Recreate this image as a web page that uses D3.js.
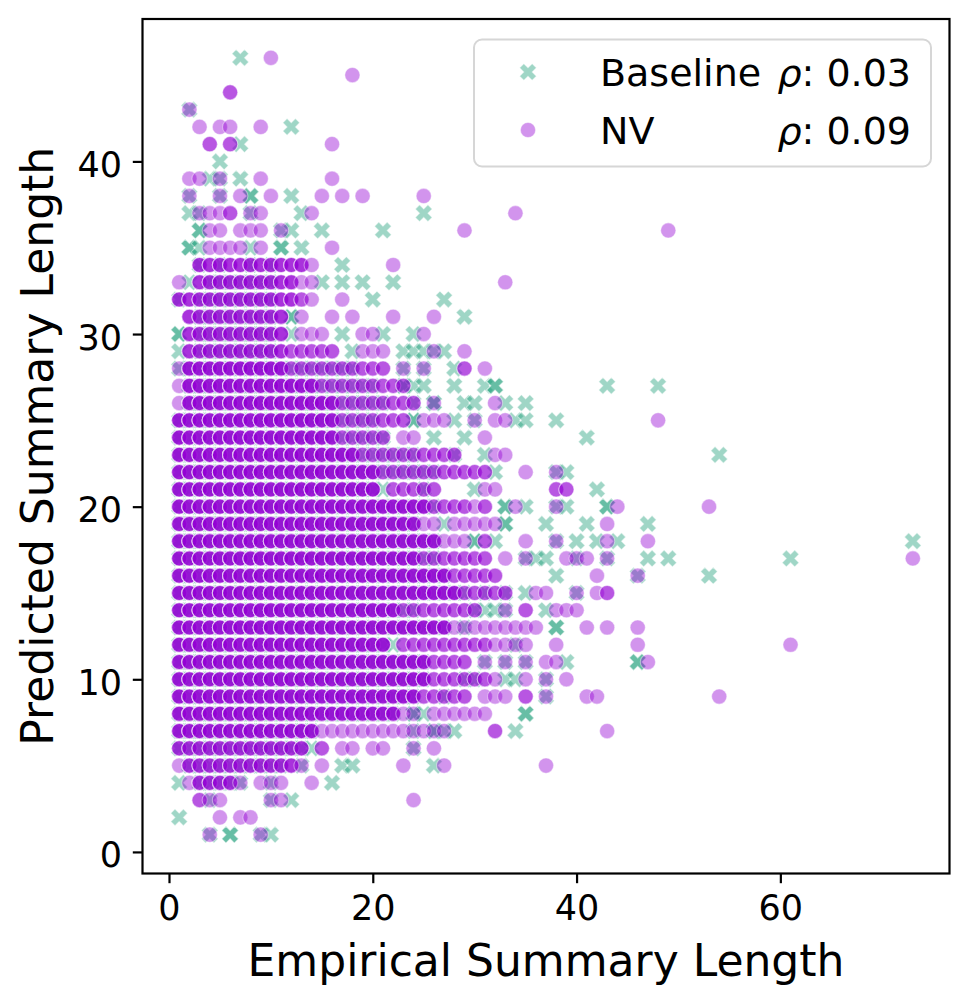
<!DOCTYPE html>
<html><head><meta charset="utf-8">
<script src="https://cdn.jsdelivr.net/npm/d3@7/dist/d3.min.js"></script>
<style>body{margin:0;background:#fff}text{font-family:"DejaVu Sans",sans-serif}</style>
</head><body>
<svg id="c" width="971" height="1005"></svg>
<script>
// ---------------- data ----------------
const xTicks = [0, 20, 40, 60];
const yTicks = [0, 10, 20, 30, 40];
const xLabel = "Empirical Summary Length";
const yLabel = "Predicted Summary Length";
const seriesNames = ["Baseline", "NV"];
const seriesRho = ["0.03", "0.09"];
const seriesColors = ["#1b9e77", "#9400d3"];

// each row: [predicted length, "empirical lengths"]  ("a-b" = every integer a..b, "*k" = k points)
const baselineRows = [
  [46,"7"],[43,"2"],[42,"12"],[41,"7"],[40,"5"],[39,"4 5 7"],
  [38,"2 5 8*2 12"],[37,"2 3 8 13 25"],[36,"3*2 11 12 15 21"],
  [35,"2*2 3 8 11*2 13"],[34,"3 5 8 10 17"],[33,"2 4-10 15 17 19 22"],
  [32,"1 3-10 20 27"],[31,"3-10 12*2 29"],[30,"1*2 3-10 12 17 21 24"],
  [29,"1 3-10 18 23 24 25 26 27"],[28,"1 2-18 23 25 28"],
  [27,"2-20 23*2 24 25 28 31 32*2 43 48"],[26,"2-20 21 24 26*2 29 30 33 35"],
  [25,"1-20 24*2 28 30 34 35 38"],[24,"1-20 21 26 29 41"],[23,"1-24 28 31 54"],
  [22,"1-26 32 38 39"],[21,"1-20 21 25 30 42"],[20,"1-26 33*2 35 38 39 43*2"],
  [19,"1-24 27 33*2 37 41 47"],[18,"1-26 30*2 32 38 40 42 44 73"],
  [17,"1-26 35 36 37 40 43 47 49 61"],[16,"1-27 38 46 53"],[15,"1-28 29 31 33 35 40"],
  [14,"1-24 30 31 32 33 37"],[13,"1-27 29 38*2"],[12,"1-21 22 34"],
  [11,"1-25 31 33 35 39 46*2"],[10,"1-25 29 30 33 34 37"],[9,"1-24 27 37"],
  [8,"1-22 24*2 25 35*2"],[7,"1-14 24 26*2 27 28 34"],[6,"1 2-13 14 24"],
  [5,"2-11 13 17 18 26"],[4,"1 3-6 7 10 16"],[3,"4 10 12"],[2,"1"],[1,"4 6*2 9 10"]
];
const nvRows = [
  [46,"10"],[45,"18"],[44,"6*2"],[43,"2"],[42,"3 5 6 9"],[41,"4*2 6*2 16"],
  [39,"2 3 5 9 16"],[38,"2 5 7 10 15 17 19 25"],[37,"3 4 5 6*2 8 9 14 34"],
  [36,"4 5 7 8 9 11 29 49"],[35,"4 5 6 7 9 16"],[34,"3-13*3 14 22"],
  [33,"1 3-12*3 13 14 33"],[32,"1-12*3 13*2 14 17"],[31,"2-11*3 13 16 18 22 26"],
  [30,"2-11*3 13-15 19 20 25"],[29,"2-11*3 12-16*2 19-21 26 29"],
  [28,"1 2-11*4 12-21*2 23 25 29*2 31"],[27,"1 2-14*4 15-23*2"],
  [26,"1 2-16*4 17-24*2 26 32"],[25,"1-16*4 17-23*2 25-27 30 32 33 48"],
  [24,"1-16*4 17-21*2 23 24 31"],[23,"1-18*4 19-28*2 32 33"],
  [22,"1-20*4 21-31*2 35 38"],[21,"1-20*4 22-26*2 31 32 38*2 39*2"],
  [20,"1-25*4 26-29*2 30 31*2 34 38 44 53"],[19,"1-24*4 25-26 28-32 43"],
  [18,"1-26*4 27-29 31*2 35 38 43 47"],[17,"1-24*4 25-31*2 33 35 39 40 41 43 73"],
  [16,"1-27*4 28-32*2 42 46"],[15,"1-28*4 29-33*2 36 37 40 42 43*2"],
  [14,"1-22*4 23-30*2 33 35*2 38 39 40"],[13,"1-27*4 28-36 41 43 46"],
  [12,"1-21*4 23-31*2 32-35 38 46 61"],[11,"1-25*4 26-29*2 31 33 35 37 38 47"],
  [10,"1-25*4 26-31*2 32 35 37 39"],[9,"1-24*4 25-29*2 31-33 35*2 37 41 42 54"],
  [8,"1-22*4 23 24 26-31"],[7,"1-14*4 15-27 32*2 43"],
  [6,"1-13*3 15*2 17 18 20 21 24 26"],[5,"1 2-12*3 13 15 23 27 37"],
  [4,"2 3-6*3 7 9 10 11 14"],[3,"3*2 4 5 10 11 24"],[2,"5 7 8"],[1,"4 9"]
];

// ---------------- helpers ----------------
function expand(rows) {
  const pts = [];
  rows.forEach(([y, spec]) => {
    spec.trim().split(/\s+/).forEach(tok => {
      const [rng, k] = tok.split("*");
      const n = k ? +k : 1;
      const [a, b] = rng.split("-").map(Number);
      const end = (b === undefined) ? a : b;
      for (let x = a; x <= end; x++) for (let i = 0; i < n; i++) pts.push({x, y});
    });
  });
  return pts;
}
const baseline = expand(baselineRows);
const nv = expand(nvRows);
const all = baseline.concat(nv);

// ---------------- layout ----------------
const svg = d3.select("#c");
const L = 142.5, R = 949.5, T = 19, B = 873.5;
const xe = d3.extent(all, d => d.x), ye = d3.extent(all, d => d.y);
const xm = (xe[1] - xe[0]) * 0.05, ym = (ye[1] - ye[0]) * 0.05;
const x = d3.scaleLinear().domain([xe[0] - xm, xe[1] + xm]).range([L, R]);
const y = d3.scaleLinear().domain([ye[0] - ym, ye[1] + ym]).range([B, T]);

const alpha = 0.42;
const crossSym = d3.symbol().type(d3.symbolCross).size(175);
const plot = svg.append("g");

plot.selectAll("path.bl").data(baseline).join("path")
  .attr("class", "bl")
  .attr("d", crossSym)
  .attr("transform", d => `translate(${x(d.x)},${y(d.y)}) rotate(45)`)
  .attr("fill", seriesColors[0]).attr("fill-opacity", alpha)
  .attr("stroke", "#fff").attr("stroke-opacity", alpha).attr("stroke-width", 1.1);

plot.selectAll("circle.nv").data(nv).join("circle")
  .attr("class", "nv")
  .attr("cx", d => x(d.x)).attr("cy", d => y(d.y)).attr("r", 7.6)
  .attr("fill", seriesColors[1]).attr("fill-opacity", alpha)
  .attr("stroke", "#fff").attr("stroke-opacity", alpha).attr("stroke-width", 1.1);

// ---------------- axes ----------------
const xAxis = d3.axisBottom(x).tickValues(xTicks).tickSize(9.7).tickPadding(6).tickFormat(d3.format("d"));
const yAxis = d3.axisLeft(y).tickValues(yTicks).tickSize(9.7).tickPadding(6).tickFormat(d3.format("d"));
const gx = svg.append("g").attr("transform", `translate(0,${B})`).call(xAxis);
const gy = svg.append("g").attr("transform", `translate(${L},0)`).call(yAxis);
[gx, gy].forEach(g => {
  g.select(".domain").remove();
  g.selectAll(".tick line").attr("stroke", "#000").attr("stroke-width", 2.2);
  g.selectAll(".tick text").attr("font-size", 35).attr("fill", "#000")
    .style("font-family", "'DejaVu Sans', sans-serif");
});
gx.selectAll(".tick text").attr("dy", null).attr("y", 46.5);
gy.selectAll(".tick text").attr("dy", null).attr("x", -20.5).attr("y", 15);

svg.append("rect").attr("x", L).attr("y", T).attr("width", R - L).attr("height", B - T)
  .attr("fill", "none").attr("stroke", "#000").attr("stroke-width", 2.2);

svg.append("text").attr("x", (L + R) / 2).attr("y", 976).attr("text-anchor", "middle")
  .attr("font-size", 44).text(xLabel);
svg.append("text").attr("transform", `translate(53,${(T + B) / 2}) rotate(-90)`)
  .attr("text-anchor", "middle").attr("font-size", 44).text(yLabel);

// ---------------- legend ----------------
const lg = svg.append("g");
lg.append("rect").attr("x", 474).attr("y", 39.5).attr("width", 457).attr("height", 127)
  .attr("rx", 8).attr("fill", "#fff").attr("fill-opacity", 0.8)
  .attr("stroke", "#d6d6d6").attr("stroke-width", 2);
const rowsY = [72, 130];
seriesNames.forEach((name, i) => {
  const cy = rowsY[i];
  if (i === 0) {
    lg.append("path").attr("d", crossSym).attr("transform", `translate(528,${cy}) rotate(45)`)
      .attr("fill", seriesColors[0]).attr("fill-opacity", alpha)
      .attr("stroke", "#fff").attr("stroke-opacity", alpha).attr("stroke-width", 1.1);
  } else {
    lg.append("circle").attr("cx", 528).attr("cy", cy).attr("r", 7.6)
      .attr("fill", seriesColors[1]).attr("fill-opacity", alpha)
      .attr("stroke", "#fff").attr("stroke-opacity", alpha).attr("stroke-width", 1.1);
  }
  lg.append("text").attr("x", 600).attr("y", cy + 13.5).attr("font-size", 38).text(name);
  const t = lg.append("text").attr("x", 911).attr("y", cy + 13.5).attr("font-size", 38)
    .attr("text-anchor", "end");
  t.append("tspan").attr("font-style", "italic").text("ρ");
  t.append("tspan").text(": " + seriesRho[i]);
});
</script>
</body></html>
